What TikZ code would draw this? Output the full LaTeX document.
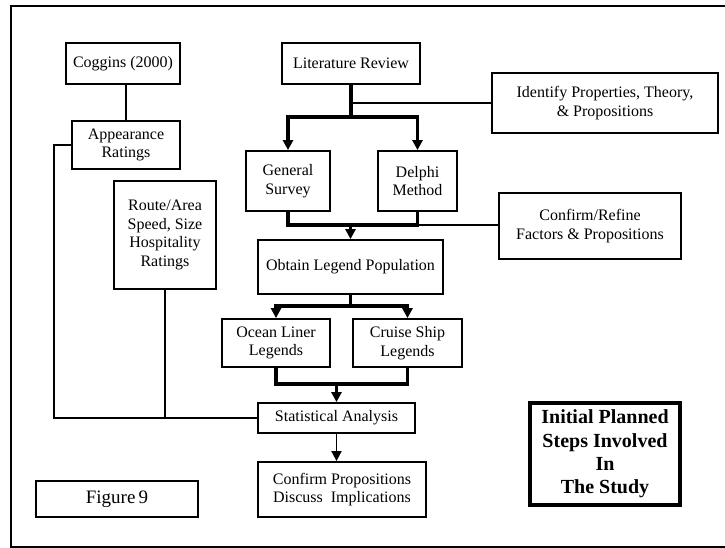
\documentclass[tikz,border=0pt]{standalone}
\usepackage{fontspec}
\setmainfont{Liberation Serif}
\usetikzlibrary{arrows.meta}
\begin{document}
\begin{tikzpicture}[x=1pt,y=-1pt,
  box/.style={draw,line width=1.8pt,inner sep=0pt,align=center,
    font=\fontsize{16}{18.5}\selectfont},
  thin/.style={line width=1.8pt},
  thick/.style={line width=3.8pt},
  tip/.style={-{Triangle[length=10pt,width=10pt]}}]
\useasboundingbox (0,0) rectangle (725,548);
% page frame (runs off the right edge)
\draw[line width=1.8pt] (730,6) -- (11,6) -- (11,547) -- (730,547);

% left column
\node[box,minimum width=114pt,minimum height=41pt] (coggins) at (123,63.5) {Coggins (2000)};
\node[box,minimum width=108pt,minimum height=48pt] (appear) at (126,145) {Appearance\\Ratings};
\node[box,minimum width=102pt,minimum height=108pt] (route) at (165,235) {Route/Area\\Speed, Size\\Hospitality\\Ratings};

% main flow
\node[box,minimum width=138pt,minimum height=41pt] (litrev) at (351,63.5) {Literature Review};
\node[box,minimum width=226pt,minimum height=60pt] (identify) at (605,103) {Identify Properties, Theory,\\\& Propositions};
\node[box,minimum width=84pt,minimum height=60pt] (gensurv) at (288,181) {General\\Survey};
\node[box,minimum width=79pt,minimum height=60pt] (delphi) at (417.5,181) {Delphi\\Method};
\node[box,minimum width=182pt,minimum height=66pt] (refine) at (590,226) {Confirm/Refine\\Factors \& Propositions};
\node[box,minimum width=185pt,minimum height=54pt] (obtain) at (350.5,267) {Obtain Legend Population};
\node[box,minimum width=108pt,minimum height=48pt] (ocean) at (276,343) {Ocean Liner\\Legends};
\node[box,minimum width=109pt,minimum height=48pt] (cruise) at (407.5,343) {Cruise Ship\\Legends};
\node[box,minimum width=157pt,minimum height=30pt] (stat) at (336.5,418) {Statistical Analysis};
\node[box,minimum width=168pt,minimum height=55pt] (confprop) at (342,489.5) {Confirm Propositions\\Discuss~ Implications};

% captions
\node[box,minimum width=162pt,minimum height=36pt,font=\fontsize{19}{21}\selectfont] (fig) at (117,499) {Figure\,9};
\node[box,line width=3.8pt,minimum width=150pt,minimum height=102pt,
  font=\fontsize{20}{23.3}\selectfont\bfseries] (title) at (605,454) {Initial Planned\\Steps Involved\\In\\The Study};

% junction points
\coordinate (lcol) at (54,0);
\coordinate (split1) at (351,117);
\coordinate (merge1) at (0,225);
\coordinate (split2) at (350.5,306);
\coordinate (merge2) at (0,384);

% left column connectors
\draw[thin] (coggins.south -| appear.north) -- (appear.north);
\draw[thin] (appear.west) -| (lcol |- stat.west) -- (stat.west);
\draw[thin] (route.south) -- (route.south |- stat.west);

% literature review branches
\draw[thick] (litrev.south) -- (split1);
\draw[thin] (litrev.south |- identify.west) -- (identify.west);
\draw[thick,tip] (split1) -| (gensurv.north);
\draw[thick,tip] (split1) -| (delphi.north);

% survey and delphi merge
\draw[thick] (gensurv.south) |- (merge1 -| delphi.south) -- (delphi.south);
\draw[thin] (merge1 -| delphi.south) -- (merge1 -| refine.west);
\draw[thick,tip] (merge1 -| obtain.north) -- (obtain.north);

% legend population split
\draw[thick] (obtain.south) -- (split2);
\draw[thick,tip] (split2) -| (ocean.north);
\draw[thick,tip] (split2) -| (cruise.north);

% legends merge into analysis
\draw[thick] (ocean.south) |- (merge2 -| cruise.south) -- (cruise.south);
\draw[thick,tip] (merge2 -| stat.north) -- (stat.north);
\draw[thin,tip] (stat.south) -- (stat.south |- confprop.north);
\end{tikzpicture}
\end{document}
